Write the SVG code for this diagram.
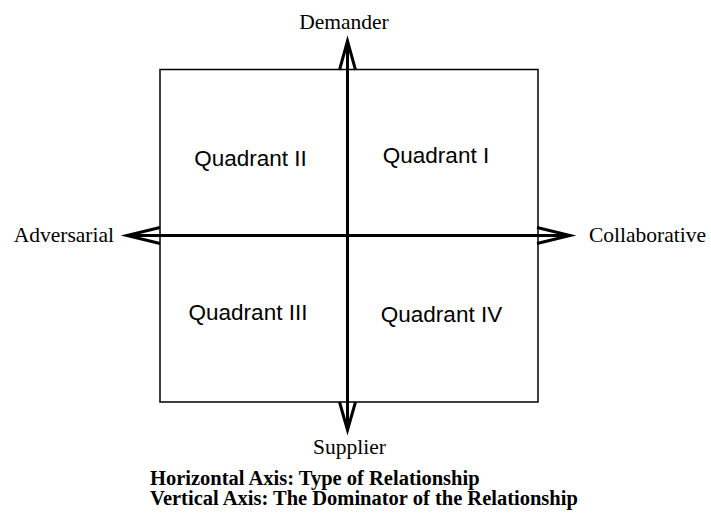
<svg xmlns="http://www.w3.org/2000/svg" width="711" height="513" viewBox="0 0 711 513">
<style>
.serif{font-family:"Liberation Serif","Times New Roman",serif;font-size:21.5px;fill:#000}
.sans{font-family:"Liberation Sans",Arial,sans-serif;font-size:22.5px;fill:#000}
.bold{font-family:"Liberation Serif","Times New Roman",serif;font-size:20.5px;font-weight:bold;fill:#000}
.axis{stroke:#000;stroke-width:3;fill:none}
.head{stroke:#000;stroke-width:3;fill:none;stroke-linejoin:miter;stroke-miterlimit:20}
</style>
<rect width="711" height="513" fill="#fff"/>
<g id="box"><rect x="160" y="69.5" width="378" height="332.5" fill="none" stroke="#000" stroke-width="1.5"/></g>
<g id="connectors">
<line class="axis" x1="347.5" y1="42" x2="347.5" y2="428"/>
<line class="axis" x1="128" y1="235.5" x2="568" y2="235.5"/>
<polyline class="head" points="339.5,70 347.5,41 355.5,70"/>
<polyline class="head" points="339.5,402 347.5,430 355.5,402"/>
<polyline class="head" points="160,227.5 127,235.5 160,243.5"/>
<polyline class="head" points="537,227.5 570,235.5 537,243.5"/>
</g>
<g id="q1"><text class="sans" x="436" y="163" text-anchor="middle">Quadrant I</text></g>
<g id="q2"><text class="sans" x="250.5" y="166" text-anchor="middle">Quadrant II</text></g>
<g id="q3"><text class="sans" x="248" y="320" text-anchor="middle">Quadrant III</text></g>
<g id="q4"><text class="sans" x="441.5" y="322" text-anchor="middle">Quadrant IV</text></g>
<g id="demander"><text class="serif" x="344" y="29" text-anchor="middle">Demander</text></g>
<g id="supplier"><text class="serif" x="349.5" y="454" text-anchor="middle">Supplier</text></g>
<g id="adversarial"><text class="serif" x="114" y="242" text-anchor="end">Adversarial</text></g>
<g id="collaborative"><text class="serif" x="589" y="242">Collaborative</text></g>
<g id="caption">
<text class="bold" x="150" y="485">Horizontal Axis: Type of Relationship</text>
<text class="bold" x="150" y="505">Vertical Axis: The Dominator of the Relationship</text>
</g>
</svg>
